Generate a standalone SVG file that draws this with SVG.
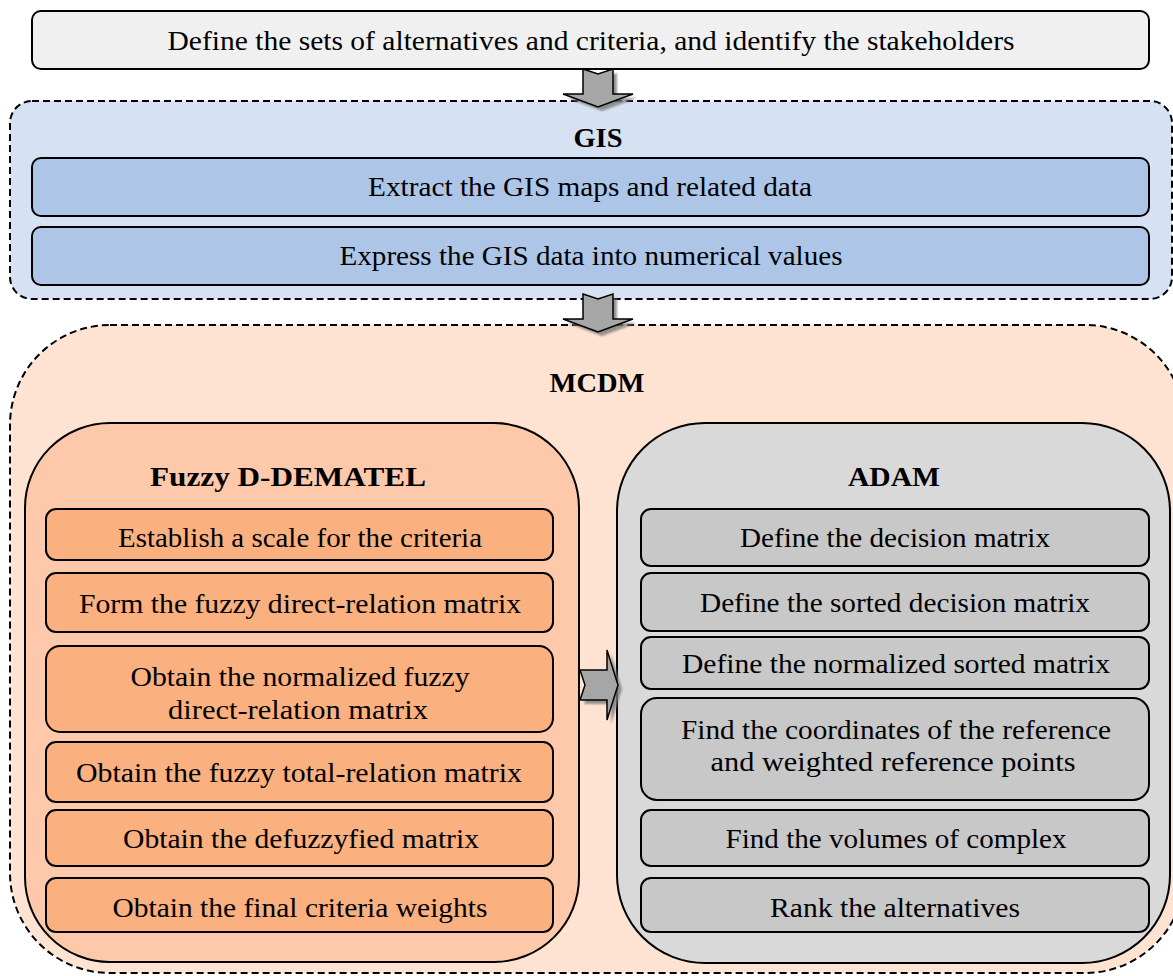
<svg xmlns="http://www.w3.org/2000/svg" width="1173" height="976" viewBox="0 0 1173 976">
<defs>
<style>
text{font-family:"Liberation Serif","Times New Roman",serif;font-size:26.5px;fill:#000;text-anchor:middle}
.b{font-weight:bold}
.box{stroke:#000;stroke-width:2}
.dash{stroke:#000;stroke-width:2;stroke-dasharray:7 4}
.arrow{fill:#a6a6a6;stroke:#000;stroke-width:1.5;stroke-linejoin:miter}
.shadow{fill:#7a7a7a;opacity:0.8}
</style>
<filter id="blur" x="-20%" y="-20%" width="140%" height="140%"><feGaussianBlur stdDeviation="1.2"/></filter>
<path id="darrow" d="M-15,0 L0,5 L15,0 L15,25 L35,25 L0,38 L-35,25 L-15,25 Z"/>
<path id="rarrow" d="M0,-15 L5,0 L0,15 L27,15 L27,35 L38,0 L27,-35 L27,-15 Z"/>
</defs>
<rect width="1173" height="976" fill="#fff"/>

<g id="start">
<rect class="box" x="32" y="11" width="1117" height="58" rx="9" fill="#f0f0f0"/>
<text x="591" y="50" textLength="847" lengthAdjust="spacingAndGlyphs">Define the sets of alternatives and criteria, and identify the stakeholders</text>
</g>

<g id="gis">
<rect class="dash" x="10" y="101" width="1162" height="198" rx="22" fill="#d6e2f3"/>
<text class="b" x="598" y="147" textLength="49" lengthAdjust="spacingAndGlyphs">GIS</text>
<g id="gis-extract">
<rect class="box" x="32" y="158" width="1117" height="58" rx="9" fill="#adc6e8"/>
<text x="590" y="196" textLength="444" lengthAdjust="spacingAndGlyphs">Extract the GIS maps and related data</text>
</g>
<g id="gis-express">
<rect class="box" x="32" y="227" width="1117" height="58" rx="9" fill="#adc6e8"/>
<text x="591" y="265" textLength="503" lengthAdjust="spacingAndGlyphs">Express the GIS data into numerical values</text>
</g>
</g>

<g id="mcdm">
<rect class="dash" x="10" y="325" width="1175" height="648" rx="100" fill="#fee3d3"/>
<text class="b" x="597" y="392" textLength="95" lengthAdjust="spacingAndGlyphs">MCDM</text>
</g>

<g id="fuzzy">
<rect class="box" x="25" y="423" width="554" height="539" rx="85" fill="#fdc9aa"/>
<text class="b" x="288" y="486" textLength="276" lengthAdjust="spacingAndGlyphs">Fuzzy D-DEMATEL</text>
<g id="f1"><rect class="box" x="46" y="509" width="507" height="51" rx="10" fill="#fbb07f"/>
<text x="300" y="547" textLength="364" lengthAdjust="spacingAndGlyphs">Establish a scale for the criteria</text></g>
<g id="f2"><rect class="box" x="46" y="573" width="507" height="59" rx="10" fill="#fbb07f"/>
<text x="300" y="613" textLength="442" lengthAdjust="spacingAndGlyphs">Form the fuzzy direct-relation matrix</text></g>
<g id="f3"><rect class="box" x="46" y="646" width="507" height="86" rx="14" fill="#fbb07f"/>
<text x="300" y="686" textLength="339" lengthAdjust="spacingAndGlyphs">Obtain the normalized fuzzy</text>
<text x="298" y="719" textLength="260" lengthAdjust="spacingAndGlyphs">direct-relation matrix</text></g>
<g id="f4"><rect class="box" x="46" y="742" width="507" height="60" rx="10" fill="#fbb07f"/>
<text x="299" y="782" textLength="446" lengthAdjust="spacingAndGlyphs">Obtain the fuzzy total-relation matrix</text></g>
<g id="f5"><rect class="box" x="46" y="810" width="507" height="56" rx="10" fill="#fbb07f"/>
<text x="301" y="848" textLength="356" lengthAdjust="spacingAndGlyphs">Obtain the defuzzyfied matrix</text></g>
<g id="f6"><rect class="box" x="46" y="878" width="507" height="54" rx="10" fill="#fbb07f"/>
<text x="300" y="917" textLength="375" lengthAdjust="spacingAndGlyphs">Obtain the final criteria weights</text></g>
</g>

<g id="adam">
<rect class="box" x="617" y="423" width="553" height="540" rx="88" fill="#d9d9d9"/>
<text class="b" x="894" y="486" textLength="92" lengthAdjust="spacingAndGlyphs">ADAM</text>
<g id="a1"><rect class="box" x="641" y="509" width="508" height="57" rx="10" fill="#c8c8c8"/>
<text x="895" y="547" textLength="310" lengthAdjust="spacingAndGlyphs">Define the decision matrix</text></g>
<g id="a2"><rect class="box" x="641" y="573" width="508" height="58" rx="10" fill="#c8c8c8"/>
<text x="895" y="612" textLength="390" lengthAdjust="spacingAndGlyphs">Define the sorted decision matrix</text></g>
<g id="a3"><rect class="box" x="641" y="637" width="508" height="52" rx="10" fill="#c8c8c8"/>
<text x="896" y="673" textLength="428" lengthAdjust="spacingAndGlyphs">Define the normalized sorted matrix</text></g>
<g id="a4"><rect class="box" x="641" y="698" width="508" height="102" rx="16" fill="#c8c8c8"/>
<text x="896" y="739" textLength="430" lengthAdjust="spacingAndGlyphs">Find the coordinates of the reference</text>
<text x="893" y="771" textLength="365" lengthAdjust="spacingAndGlyphs">and weighted reference points</text></g>
<g id="a5"><rect class="box" x="641" y="810" width="508" height="56" rx="10" fill="#c8c8c8"/>
<text x="896" y="848" textLength="341" lengthAdjust="spacingAndGlyphs">Find the volumes of complex</text></g>
<g id="a6"><rect class="box" x="641" y="878" width="508" height="54" rx="10" fill="#c8c8c8"/>
<text x="895" y="917" textLength="250" lengthAdjust="spacingAndGlyphs">Rank the alternatives</text></g>
</g>

<g id="connectors">
<use href="#darrow" class="shadow" filter="url(#blur)" transform="translate(602,73)"/>
<use href="#darrow" class="arrow" transform="translate(598,69)"/>
<use href="#darrow" class="shadow" filter="url(#blur)" transform="translate(602,298)"/>
<use href="#darrow" class="arrow" transform="translate(598,294)"/>
<use href="#rarrow" class="shadow" filter="url(#blur)" transform="translate(584,689)"/>
<use href="#rarrow" class="arrow" transform="translate(580,685)"/>
</g>
</svg>
